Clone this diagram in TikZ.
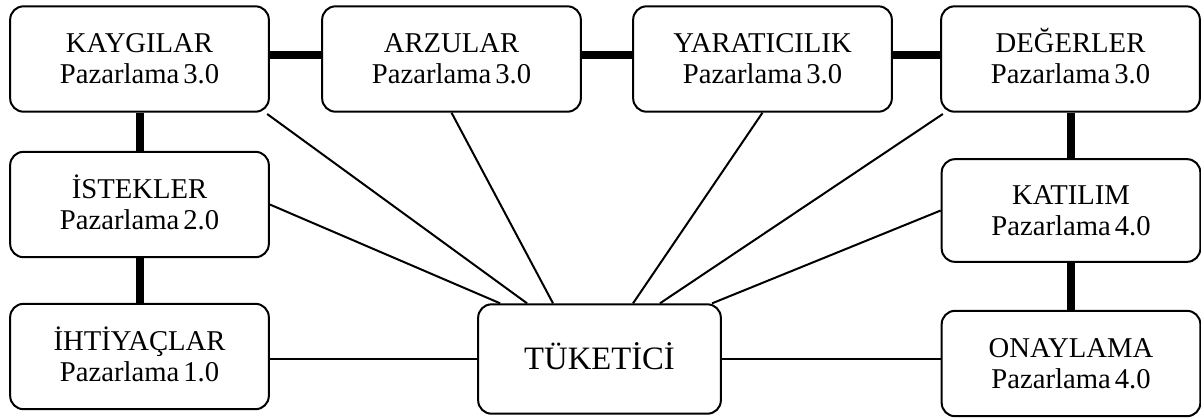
\documentclass[tikz,border=0pt]{standalone}
\usepackage{fontspec}
\setmainfont{Liberation Serif}[WordSpace=0.55]
\usetikzlibrary{calc}

\tikzset{every picture/.style={line width=0.75pt}}
\tikzset{
  era/.style={draw, line width=1.5pt, rounded corners=10pt, align=center,
    minimum width=194pt, minimum height=79pt, inner sep=2pt,
    font=\fontsize{21.5}{23}\selectfont},
  core/.style={era, minimum width=182pt, minimum height=82pt,
    font=\fontsize{24.5}{28}\selectfont},
  bond/.style={line width=6pt},
  spoke/.style={line width=1.5pt}
}

\begin{document}
\begin{tikzpicture}[x=0.75pt,y=0.75pt,yscale=-1,xscale=1]
        \useasboundingbox (0,0) rectangle (1201,419);
        %Rounded Rect top row
        \node [era] (kay) at (139.5,59) {KAYGILAR\\Pazarlama 3.0};
        \node [era] (arz) at (451.5,59) {ARZULAR\\Pazarlama 3.0};
        \node [era] (yar) at (762.5,59) {YARATICILIK\\Pazarlama 3.0};
        \node [era] (deg) at (1070.5,59) {DE\smash{Ğ}ERLER\\Pazarlama 3.0};
        %Rounded Rect left column
        \node [era] (ist) at (139.5,204.5) {\smash{İ}STEKLER\\Pazarlama 2.0};
        \node [era] (iht) at (139.5,356.5) {\smash{İ}HT\smash{İ}YAÇLAR\\Pazarlama 1.0};
        %Rounded Rect right column
        \node [era, minimum height=77pt] (kat) at (1071,210.5) {KATILIM\\Pazarlama 4.0};
        \node [era] (ona) at (1071,363.5) {ONAYLAMA\\Pazarlama 4.0};
        %Rounded Rect centre
        \node [core] (tuk) at (599.5,359) {T\smash{Ü}KET\smash{İ}C\smash{İ}};
        % Thick bonds
        \draw [bond] ([yshift=-3pt]kay.east) -- ([yshift=-3pt]arz.west);
        \draw [bond] ([yshift=-3pt]arz.east) -- ([yshift=-3pt]yar.west);
        \draw [bond] ([yshift=-3pt]yar.east) -- ([yshift=-3pt]deg.west);
        \draw [bond] (kay.south) -- (ist.north);
        \draw [bond] (ist.south) -- (iht.north);
        \draw [bond] (deg.south) -- (deg.south |- kat.north);
        \draw [bond] (deg.south |- kat.south) -- (deg.south |- ona.north);
        % Spokes
        \draw [spoke] (ist.east) -- ($(tuk.north west)!0.094!(tuk.north east)$);
        \draw [spoke] ([xshift=-2pt,yshift=1pt]kay.south east) -- ($(tuk.north west)!0.204!(tuk.north east)$);
        \draw [spoke] (arz.south) -- ($(tuk.north west)!0.31!(tuk.north east)$);
        \draw [spoke] (yar.south) -- ($(tuk.north west)!0.637!(tuk.north east)$);
        \draw [spoke] ([xshift=2pt,yshift=1pt]deg.south west) -- ($(tuk.north west)!0.747!(tuk.north east)$);
        \draw [spoke] (kat.west) -- ($(tuk.north west)!0.96!(tuk.north east)$);
        \draw [spoke] (iht.east |- tuk.west) -- (tuk.west);
        \draw [spoke] (tuk.east) -- (tuk.east -| ona.west);
    \end{tikzpicture}
\end{document}
